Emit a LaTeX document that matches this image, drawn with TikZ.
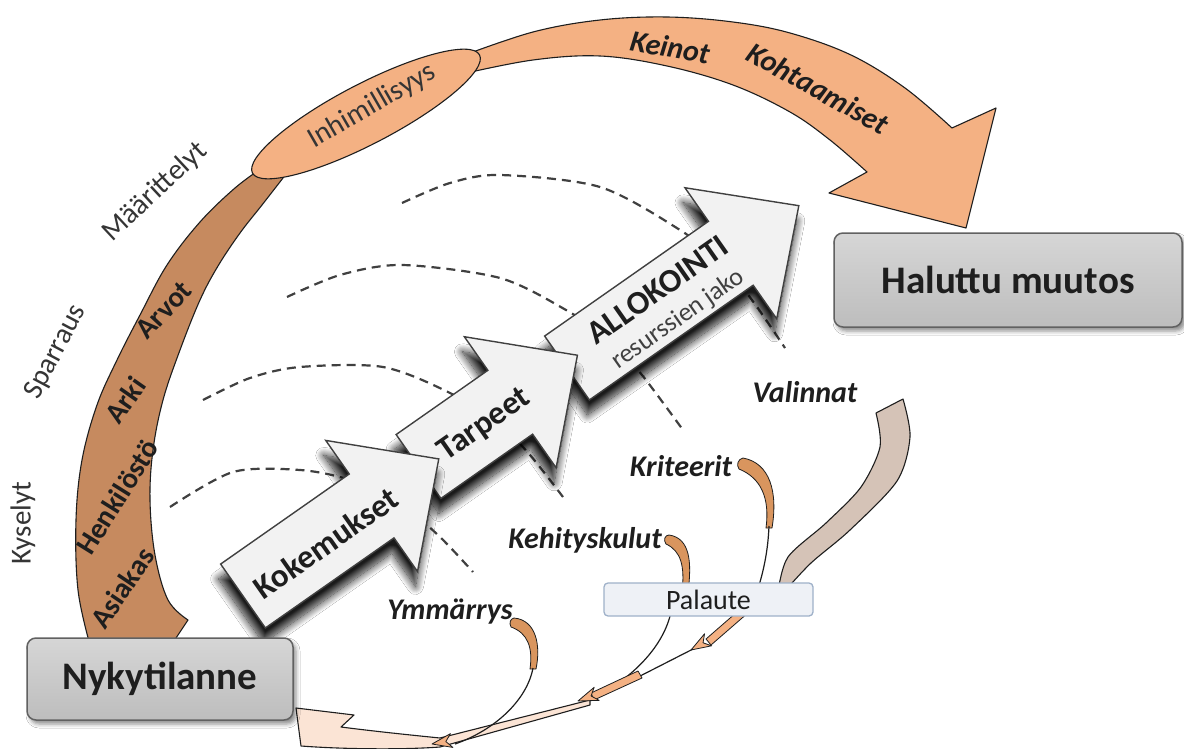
\documentclass[tikz,border=0pt]{standalone}
\usepackage{fontspec}
\setmainfont{Carlito}
\usetikzlibrary{shadows.blur}

\definecolor{bandlight}{HTML}{F4B183}
\definecolor{banddark}{HTML}{C68A5F}
\definecolor{arrowfill}{HTML}{F2F2F2}
\definecolor{boxlow}{HTML}{BDBDBD}
\definecolor{boxhigh}{HTML}{D6D6D6}
\definecolor{palfill}{HTML}{EEF1F6}
\definecolor{palline}{HTML}{9FB1C9}
\definecolor{taupe}{HTML}{D5C3B7}
\definecolor{hookfill}{HTML}{D9955E}
\definecolor{headfill}{HTML}{F4B183}
\definecolor{pinkfill}{HTML}{FBE4D5}
\definecolor{ink}{HTML}{1E1E1E}

\newcommand\txtsize[1]{\fontsize{#1}{#1}\selectfont}

\tikzset{
  outline/.style={draw=ink, line width=1.1pt, line join=round},
  stepper/.style={fill=arrowfill, draw=ink!85, line width=1.4pt, line join=miter,
    blur shadow={shadow xshift=-2pt, shadow yshift=-15pt, shadow blur radius=8pt,
                 shadow blur steps=16, shadow opacity=90}},
  guide/.style={draw=ink!85, line width=2.2pt, dash pattern=on 9pt off 6pt},
  statebox/.style={draw=ink!70, line width=1.5pt, rounded corners=9pt,
    top color=boxhigh, bottom color=boxlow,
    blur shadow={shadow xshift=3pt, shadow yshift=-4pt, shadow blur radius=4pt, shadow opacity=45}},
  boxlabel/.style={font=\txtsize{39}\bfseries, text=ink},
  steplabel/.style={font=\txtsize{33}\bfseries, text=ink, inner sep=0pt},
  sublabel/.style={font=\txtsize{26}, text=ink!85, inner sep=0pt},
  bandlabel/.style={font=\txtsize{29}\bfseries, text=ink, inner sep=0pt},
  sidelabel/.style={font=\txtsize{29}, text=ink!90, inner sep=0pt},
  itlabel/.style={font=\txtsize{30}\bfseries\itshape, text=ink, inner sep=0pt},
  thinline/.style={draw=ink, line width=1.2pt},
  hook/.style={fill=hookfill, draw=ink, line width=0.8pt, line join=round},
  smallhead/.style={fill=headfill, draw=ink, line width=0.8pt, line join=round},
}

\begin{document}
\begin{tikzpicture}[x=1pt, y=-1pt]
\fill[white] (0,0) rectangle (1184,749);
\useasboundingbox (0,0) rectangle (1184,749);

% ---- dashed guide arcs (partly hidden by the step arrows) ----
\draw[guide] plot[smooth] coordinates {(170,507) (233,472) (300,470) (350,480) (400,503) (440,537) (473,572)};
\draw[guide] plot[smooth] coordinates {(203,400) (250,378) (300,367) (383,367) (450,393) (500,425) (530,455) (563,497)};
\draw[guide] plot[smooth] coordinates {(287,297) (340,275) (402,265) (500,278) (566,310) (610,340) (642,375) (683,430)};
\draw[guide] plot[smooth] coordinates {(402,203) (450,183) (500,175) (600,187) (680,230) (720,262) (752,300) (785,348)};

% ---- big curved arrow: upper light band with head ----
\path[outline, fill=bandlight]
  plot[smooth, tension=0.6] coordinates {(462,56) (533,32) (600,20) (667,17) (733,22) (790,33) (851,55) (905,88) (952,128)}
  -- (996,108) -- (966,228) -- (829,193) -- (867,172)
  -- plot[smooth, tension=0.6] coordinates {(867,172) (830,140) (790,112) (733,85) (667,66) (600,56) (533,60) (462,74)}
  -- cycle;

% ---- big curved arrow: lower dark band ----
\path[outline, fill=banddark]
  (160,662) -- (92,662)
  -- plot[smooth, tension=0.6] coordinates {(90,645) (78,590) (76,520) (82,460) (97,405) (117,360) (140,315) (167,265) (200,222) (235,188) (262,168)}
  -- (300,140) -- (283,178)
  -- plot[smooth, tension=0.6] coordinates {(283,178) (262,205) (240,233) (218,266) (200,300) (180,350) (163,400) (153,450) (150,500) (155,555) (168,600) (188,620)}
  -- cycle;

% ---- joint ellipse ----
\draw[outline, fill=bandlight, rotate around={27.5:(366,114)}] (366,114) ellipse [x radius=128, y radius=30];

% ---- step arrows (drawn back to front) ----
\begin{scope}[shift={(567,368)}, rotate=35]
  \path[stepper] (0,-39) -- (200,-39) -- (200,-80) -- (283,0) -- (200,80) -- (200,39) -- (0,39) -- cycle;
  \node[steplabel, rotate=35] (alloc) at (119,-12) {ALLOKOINTI};
  \node[sublabel, rotate=35] (jako) at (119,24) {resurssien jako};
\end{scope}
\begin{scope}[shift={(418.5,466.5)}, rotate=35]
  \path[stepper] (0,-39) -- (112,-39) -- (112,-80) -- (194,0) -- (112,80) -- (112,39) -- (0,39) -- cycle;
  \node[steplabel, rotate=35] (tarpeet) at (78,4) {Tarpeet};
\end{scope}
\begin{scope}[shift={(243,596)}, rotate=35]
  \path[stepper] (0,-39) -- (157,-39) -- (157,-80) -- (239,0) -- (157,80) -- (157,39) -- (0,39) -- cycle;
  \node[steplabel, rotate=35] (kokem) at (98,4) {Kokemukset};
\end{scope}

% ---- feedback loop ----
\path[outline, fill=taupe]
  plot[smooth] coordinates {(903,399) (910,437) (897,481) (850,530) (811,563) (784,592)}
  -- plot[smooth] coordinates {(778,592) (788,557) (826,523) (861,487) (880,447) (876,413)}
  -- cycle;

\path[outline, fill=pinkfill]
  (590,700) -- (440,738) .. controls (410,735) and (372,731) .. (341,727)
  -- (354,715) -- (296,708) -- (301,746)
  .. controls (340,749) and (400,750) .. (440,747) -- (590,705) -- cycle;

% hooks under the labels
\path[hook] (514,618) .. controls (536,620) and (541,645) .. (536,669)
  -- (530,669) .. controls (533,648) and (528,633) .. (511,627)
  .. controls (509,623) and (510,619) .. (514,618) -- cycle;
\path[hook] (669,535) .. controls (690,538) and (692,562) .. (688,592)
  -- (682,592) .. controls (685,566) and (681,551) .. (666,544)
  .. controls (663,540) and (665,535) .. (669,535) -- cycle;
\path[hook] (743,458) .. controls (770,463) and (778,492) .. (772,528)
  -- (766,528) .. controls (770,498) and (761,478) .. (739,469)
  .. controls (736,465) and (738,459) .. (743,458) -- cycle;

\draw[thinline] (533,668) .. controls (527,700) and (495,730) .. (455,744);
\draw[thinline] (769,526) .. controls (768,550) and (764,570) .. (757,592);
\draw[thinline] (671,612) .. controls (664,645) and (635,676) .. (596,697);
\draw[thinline] (695,648) -- (597,698);

\path[smallhead] (749,612) -- (737,612) -- (706,639) -- (711,645) -- cycle;
\path[smallhead] (638,671) -- (642,678) -- (594,700) -- (591,693) -- cycle;
\begin{scope}[shift={(691,650)}, rotate=210.8]
  \path[smallhead] (0,0) -- (-20,-7) -- (-14,0) -- (-20,7) -- cycle;
\end{scope}
\begin{scope}[shift={(578,701)}, rotate=201]
  \path[smallhead] (0,0) -- (-20,-7) -- (-14,0) -- (-20,7) -- cycle;
\end{scope}
\begin{scope}[shift={(432,744)}, rotate=190]
  \path[smallhead] (0,0) -- (-20,-7) -- (-14,0) -- (-20,7) -- cycle;
\end{scope}

\node[draw=palline, fill=palfill, line width=1.3pt, rounded corners=4pt,
      minimum width=209pt, minimum height=33pt, inner sep=0pt,
      font=\txtsize{28}, text=ink] (palaute) at (708.5,599.5) {Palaute};

% ---- state boxes ----
\node[statebox, boxlabel, minimum width=266pt, minimum height=82pt] (nyky) at (160,679) {Nykytilanne};
\node[statebox, boxlabel, minimum width=348pt, minimum height=94pt] (haluttu) at (1008,280) {Haluttu muutos};

% ---- labels ----
\node[sidelabel, rotate=90] (kyselyt) at (23,523) {Kyselyt};
\node[sidelabel, rotate=62] (sparraus) at (56,352) {Sparraus};
\node[sidelabel, rotate=43] (maarittelyt) at (155,192) {Määrittelyt};
\node[sidelabel, rotate=30] (inhim) at (372,106) {Inhimillisyys};

\node[bandlabel, rotate=56] (asiakas) at (122,588) {Asiakas};
\node[bandlabel, rotate=58] (henkilosto) at (117,497) {Henkilöstö};
\node[bandlabel, rotate=55] (arki) at (125,400) {Arki};
\node[bandlabel, rotate=47] (arvot) at (164,310) {Arvot};

\node[itlabel, rotate=-10] (keinot) at (670,47) {Keinot};
\node[itlabel, rotate=-29] (kohtaamiset) at (818,88) {Kohtaamiset};

\node[itlabel] (valinnat) at (805,392) {Valinnat};
\node[itlabel] (kriteerit) at (681,466) {Kriteerit};
\node[itlabel] (kehitys) at (585,540) {Kehityskulut};
\node[itlabel] (ymmarrys) at (450,612) {Ymmärrys};
\end{tikzpicture}
\end{document}
